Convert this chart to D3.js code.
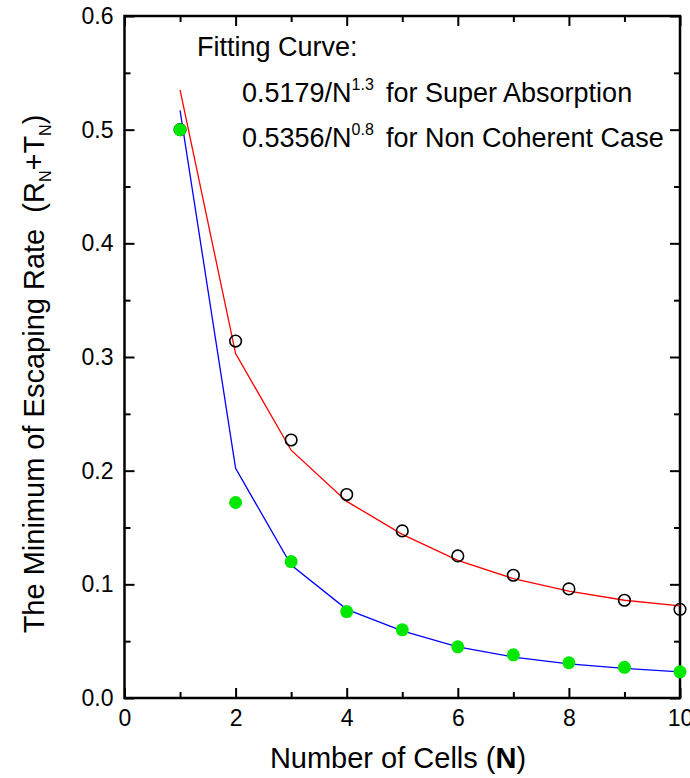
<!DOCTYPE html>
<html>
<head>
<meta charset="utf-8">
<script src="https://cdn.jsdelivr.net/npm/d3@7"></script>
<style>
  html, body { margin: 0; padding: 0; background: #fff; }
  svg { display: block; font-family: "Liberation Sans", Arial, sans-serif; }
</style>
</head>
<body>
<svg id="chart" width="690" height="778"></svg>
<script>
// ---- Data ----
const cells = [1, 2, 3, 4, 5, 6, 7, 8, 9, 10];
// open black circles
const nonCoherentPoints = [0.500, 0.314, 0.227, 0.179, 0.147, 0.125, 0.108, 0.096, 0.086, 0.078];
// filled green dots
const superAbsorptionPoints = [0.500, 0.172, 0.120, 0.076, 0.060, 0.045, 0.038, 0.031, 0.027, 0.023];
// red fitting curve
const redFit = [0.535, 0.303, 0.218, 0.173, 0.144, 0.121, 0.105, 0.094, 0.086, 0.081];
// blue fitting curve
const blueFit = [0.517, 0.202, 0.117, 0.078, 0.059, 0.045, 0.036, 0.030, 0.026, 0.023];

const xMajorTicks = [0, 2, 4, 6, 8, 10];
const xMinorTicks = [1, 3, 5, 7, 9];
const yMajorTicks = [0.0, 0.1, 0.2, 0.3, 0.4, 0.5, 0.6];
const yMinorTicks = [0.05, 0.15, 0.25, 0.35, 0.45, 0.55];

// ---- Layout ----
const svg = d3.select("#chart");
const L = 124.5, R = 680, T = 16, B = 698;

const x = d3.scaleLinear().domain([0, 10]).range([L, R]);
const y = d3.scaleLinear().domain([0, 0.6]).range([B, T]);

const tickFont = 23;

function styleAxis(g) {
  g.select(".domain").remove();
  g.selectAll(".tick line").attr("stroke", "#000").attr("stroke-width", 2);
  g.selectAll(".tick text").attr("fill", "#000").style("font-size", tickFont + "px")
    .style("font-family", '"Liberation Sans", Arial, sans-serif');
}

// bottom
svg.append("g").attr("transform", `translate(0,${B})`)
  .call(d3.axisBottom(x).tickValues(xMajorTicks).tickSize(-10).tickPadding(12).tickFormat(d3.format("d")))
  .call(styleAxis);
svg.append("g").attr("transform", `translate(0,${B})`)
  .call(d3.axisBottom(x).tickValues(xMinorTicks).tickSize(-6).tickFormat(""))
  .call(styleAxis);
// top
svg.append("g").attr("transform", `translate(0,${T})`)
  .call(d3.axisTop(x).tickValues(xMajorTicks).tickSize(-10).tickFormat(""))
  .call(styleAxis);
svg.append("g").attr("transform", `translate(0,${T})`)
  .call(d3.axisTop(x).tickValues(xMinorTicks).tickSize(-6).tickFormat(""))
  .call(styleAxis);
// left
svg.append("g").attr("transform", `translate(${L},0)`)
  .call(d3.axisLeft(y).tickValues(yMajorTicks).tickSize(-10).tickPadding(11).tickFormat(d3.format(".1f")))
  .call(styleAxis);
svg.append("g").attr("transform", `translate(${L},0)`)
  .call(d3.axisLeft(y).tickValues(yMinorTicks).tickSize(-6).tickFormat(""))
  .call(styleAxis);
// right
svg.append("g").attr("transform", `translate(${R},0)`)
  .call(d3.axisRight(y).tickValues(yMajorTicks).tickSize(-10).tickFormat(""))
  .call(styleAxis);
svg.append("g").attr("transform", `translate(${R},0)`)
  .call(d3.axisRight(y).tickValues(yMinorTicks).tickSize(-6).tickFormat(""))
  .call(styleAxis);

// frame
svg.append("rect").attr("x", L).attr("y", T).attr("width", R - L).attr("height", B - T)
  .attr("fill", "none").attr("stroke", "#000").attr("stroke-width", 2.5);

// ---- Curves ----
const line = d3.line().x((d, i) => x(cells[i])).y(d => y(d));
svg.append("path").datum(redFit).attr("d", line)
  .attr("fill", "none").attr("stroke", "#ff0000").attr("stroke-width", 1.3);
svg.append("path").datum(blueFit).attr("d", line)
  .attr("fill", "none").attr("stroke", "#0000ff").attr("stroke-width", 1.3);

// ---- Points ----
svg.append("g").selectAll("circle").data(nonCoherentPoints).join("circle")
  .attr("cx", (d, i) => x(cells[i])).attr("cy", d => y(d)).attr("r", 5.8)
  .attr("fill", "none").attr("stroke", "#000").attr("stroke-width", 1.6);
svg.append("g").selectAll("circle").data(superAbsorptionPoints).join("circle")
  .attr("cx", (d, i) => x(cells[i])).attr("cy", d => y(d)).attr("r", 6.5)
  .attr("fill", "#00e800").attr("stroke", "none");

// ---- Annotation ----
const annFont = 27;
svg.append("text").attr("x", 197).attr("y", 56).style("font-size", annFont + "px").text("Fitting Curve:");

function fitLine(yPos, coef, expo, desc) {
  const t = svg.append("text").attr("x", 242).attr("y", yPos).style("font-size", annFont + "px");
  t.append("tspan").text(coef + "/N");
  t.append("tspan").attr("dy", -12).style("font-size", "16px").text(expo);
  svg.append("text").attr("x", 386).attr("y", yPos).style("font-size", annFont + "px").text(desc);
}
fitLine(102, "0.5179", "1.3", "for Super Absorption");
fitLine(147, "0.5356", "0.8", "for Non Coherent Case");

// ---- Axis titles ----
const xt = svg.append("text").attr("x", 398).attr("y", 768).attr("text-anchor", "middle")
  .style("font-size", "29px");
xt.append("tspan").text("Number of Cells (");
xt.append("tspan").style("font-weight", "bold").text("N");
xt.append("tspan").text(")");

const yt = svg.append("text").attr("transform", "translate(44,374) rotate(-90)")
  .attr("text-anchor", "middle").style("font-size", "29px");
yt.append("tspan").text("The Minimum of Escaping Rate\u00a0\u00a0(R");
yt.append("tspan").attr("dy", 7).style("font-size", "16px").text("N");
yt.append("tspan").attr("dy", -7).text("+T");
yt.append("tspan").attr("dy", 7).style("font-size", "16px").text("N");
yt.append("tspan").attr("dy", -7).text(")");
</script>
</body>
</html>
